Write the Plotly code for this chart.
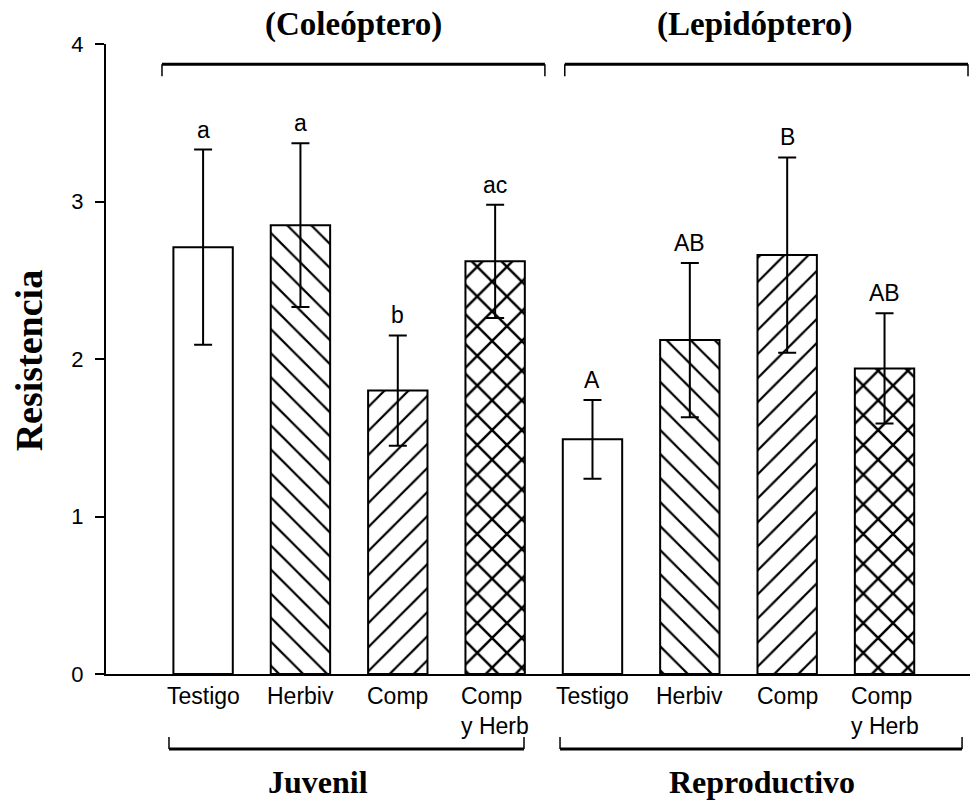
import plotly.graph_objects as go

# Resistance per treatment, juvenile (coleopteran) and reproductive (lepidopteran) stages
groups = ["Juvenil", "Reproductivo"]
insects = ["(Coleóptero)", "(Lepidóptero)"]
treatments = ["Testigo", "Herbiv", "Comp", "Comp<br>y Herb"]
tick_labels = treatments + treatments
means = [2.71, 2.85, 1.80, 2.62, 1.49, 2.12, 2.66, 1.94]
errors = [0.62, 0.52, 0.35, 0.36, 0.25, 0.49, 0.62, 0.35]
letters = ["a", "a", "b", "ac", "A", "AB", "B", "AB"]
y_ticks = [0, 1, 2, 3, 4]

hatch = ["", "\\", "/", "x"] * 2
hatch_size = [17, 17, 17, 21] * 2
hatch_solid = [0.13, 0.13, 0.13, 0.22] * 2
positions = list(range(len(means)))

SERIF = "Liberation Serif, Times New Roman, serif"
SANS = "Liberation Sans, Arial, sans-serif"

fig = go.Figure()
fig.add_trace(go.Bar(
    x=positions,
    y=means,
    width=0.61,
    marker=dict(
        color="white",
        line=dict(color="black", width=2),
        pattern=dict(shape=hatch, fgcolor="black", bgcolor="white",
                     size=hatch_size, solidity=hatch_solid, fillmode="replace"),
    ),
    error_y=dict(type="data", array=errors, visible=True,
                 color="black", thickness=2, width=9),
    showlegend=False,
))

annotations = []
# significance letters above each error bar
for x, m, e, t in zip(positions, means, errors, letters):
    annotations.append(dict(x=x, y=m + e, xref="x", yref="y", text=t,
                            showarrow=False, yanchor="bottom", yshift=5,
                            font=dict(family=SANS, size=23, color="black")))
# treatment labels under the axis
for x, t in zip(positions, tick_labels):
    annotations.append(dict(x=x, y=0, xref="x", yref="paper", text=t,
                            showarrow=False, yanchor="top", yshift=-7,
                            align="left",
                            font=dict(family=SANS, size=23, color="black")))

# group titles
for xp, t in zip([0.287, 0.751], insects):
    annotations.append(dict(x=xp, y=1.031, xref="paper", yref="paper",
                            text="<b>" + t + "</b>", showarrow=False,
                            xanchor="center", yanchor="middle",
                            font=dict(family=SERIF, size=33, color="black")))
for xp, t in zip([0.245, 0.759], groups):
    annotations.append(dict(x=xp, y=-0.172, xref="paper", yref="paper",
                            text="<b>" + t + "</b>", showarrow=False,
                            xanchor="center", yanchor="middle",
                            font=dict(family=SERIF, size=32, color="black")))
# y-axis title
annotations.append(dict(x=-0.089, y=0.498, xref="paper", yref="paper",
                        text="<b>Resistencia</b>", textangle=-90,
                        showarrow=False, xanchor="center", yanchor="middle",
                        font=dict(family=SERIF, size=38, color="black")))

# brackets grouping the bars (paper coordinates)
shapes = []
def bracket(x0, x1, y, tick):
    shapes.append(dict(type="line", xref="paper", yref="paper",
                       x0=x0, x1=x1, y0=y, y1=y,
                       line=dict(color="black", width=3)))
    for xx in (x0, x1):
        shapes.append(dict(type="line", xref="paper", yref="paper",
                           x0=xx, x1=xx, y0=y, y1=y + tick,
                           line=dict(color="black", width=1.5)))

bracket(0.0648, 0.508, 0.968, -0.019)
bracket(0.531, 0.9977, 0.968, -0.019)
bracket(0.0729, 0.4838, -0.119, 0.019)
bracket(0.5255, 0.9908, -0.119, 0.019)

fig.update_layout(
    width=970, height=800,
    margin=dict(l=106, r=0, t=44, b=126),
    plot_bgcolor="white", paper_bgcolor="white",
    annotations=annotations, shapes=shapes,
    xaxis=dict(range=[-0.9974, 7.878], showticklabels=False, ticks="",
               showgrid=False, zeroline=False, showline=True,
               linecolor="black", linewidth=2, fixedrange=True),
    yaxis=dict(range=[0, 4], tickvals=y_ticks, ticks="outside", ticklen=9,
               tickwidth=2, tickcolor="black", showgrid=False, zeroline=False,
               showline=True, linecolor="black", linewidth=2,
               tickfont=dict(family=SANS, size=22, color="black"),
               ticklabelstandoff=7),
)

fig.write_html("out.html")
